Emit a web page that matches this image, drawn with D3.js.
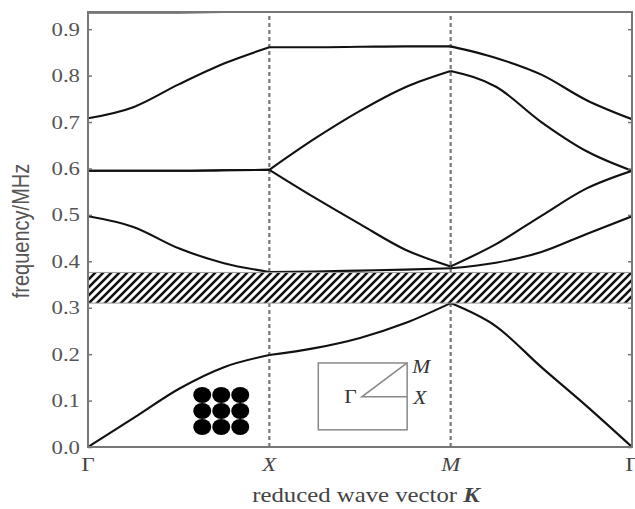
<!DOCTYPE html>
<html>
<head>
<meta charset="utf-8">
<script src="https://cdn.jsdelivr.net/npm/d3@7/dist/d3.min.js"></script>
<style>
  body { margin: 0; background: #fff; }
</style>
</head>
<body>
<div id="chart"></div>
<script>
// path through the zone: Γ(0) - X(1) - M(2) - Γ(3)
var kPoints = [0, 0.25, 0.5, 0.75, 1, 1.25, 1.5, 1.75, 2, 2.25, 2.5, 2.75, 3];

// frequencies (MHz) at kPoints
var band1 = [0, 0.062, 0.125, 0.172, 0.198, 0.213, 0.235, 0.267, 0.310, 0.260, 0.172, 0.088, 0];
var band2 = [0.497, 0.474, 0.428, 0.396, 0.377, 0.378, 0.380, 0.382, 0.385, 0.397, 0.420, 0.459, 0.497];
var band3 = [0.595, 0.595, 0.595, 0.596, 0.597, 0.537, 0.480, 0.425, 0.389, 0.437, 0.498, 0.557, 0.595];
var band4 = [0.595, 0.595, 0.595, 0.596, 0.597, 0.664, 0.724, 0.775, 0.810, 0.776, 0.700, 0.637, 0.595];
var band5 = [0.708, 0.732, 0.781, 0.826, 0.861, 0.861, 0.862, 0.863, 0.863, 0.838, 0.802, 0.747, 0.706];
var band6 = [0.936, 0.936, 0.936, 0.937, 0.950, null, null, null, null, null, null, null, null];

var gapBand = [0.310, 0.376];

var kTicks = [0, 1, 2, 3];
var kLabels = ["Γ", "X", "M", "Γ"];
var freqTicks = [0, 0.1, 0.2, 0.3, 0.4, 0.5, 0.6, 0.7, 0.8, 0.9];

var width = 635, height = 509;
var plotLeft = 88, plotRight = 632, plotTop = 12, plotBottom = 447;
var stretch = "scale(1.2,1)";   // the scan is a bit wider than tall

var svg = d3.select("#chart")
  .append("svg")
    .attr("width", width)
    .attr("height", height);

var x = d3.scaleLinear().domain([0, 3]).range([plotLeft, plotRight]);
var y = d3.scaleLinear().domain([0, 0.937]).range([plotBottom, plotTop]);

var defs = svg.append("defs");

defs.append("clipPath")
    .attr("id", "plot")
  .append("rect")
    .attr("x", plotLeft)
    .attr("y", plotTop)
    .attr("width", plotRight - plotLeft)
    .attr("height", plotBottom - plotTop);

var hatch = defs.append("pattern")
    .attr("id", "hatch")
    .attr("patternUnits", "userSpaceOnUse")
    .attr("width", 8)
    .attr("height", 8);

hatch.append("rect")
    .attr("width", 8)
    .attr("height", 8)
    .attr("fill", "#fff");

hatch.append("path")
    .attr("d", "M-2,2 L2,-2 M0,8 L8,0 M6,10 L10,6")
    .attr("stroke", "#111")
    .attr("stroke-width", 2.6);

// dashed lines at X and M
svg.selectAll(".sym")
    .data([1, 2])
    .enter()
  .append("line")
    .attr("class", "sym")
    .attr("x1", function(d) { return x(d); })
    .attr("x2", function(d) { return x(d); })
    .attr("y1", plotBottom)
    .attr("y2", plotTop)
    .attr("stroke", "#777")
    .attr("stroke-width", 2.2)
    .attr("stroke-dasharray", "4,3");

var line = d3.line()
    .x(function(d) { return x(d[0]); })
    .y(function(d) { return y(d[1]); })
    .curve(d3.curveMonotoneX);

var curves = svg.append("g").attr("clip-path", "url(#plot)");

// each branch (Γ-X, X-M, M-Γ) drawn on its own so the corners stay sharp
[band1, band2, band3, band4, band5, band6].forEach(function(vals) {
  for (var s = 0; s < 3; s++) {
    var pts = [];
    for (var i = s * 4; i <= s * 4 + 4; i++) {
      pts.push([kPoints[i], vals[i]]);
    }
    if (pts.some(function(p) { return p[1] == null; })) continue;
    curves.append("path")
        .attr("d", line(pts))
        .attr("fill", "none")
        .attr("stroke", "#111")
        .attr("stroke-width", 2.1);
  }
});

// band gap
svg.append("rect")
    .attr("x", plotLeft)
    .attr("y", y(gapBand[1]))
    .attr("width", plotRight - plotLeft)
    .attr("height", y(gapBand[0]) - y(gapBand[1]))
    .attr("fill", "url(#hatch)")
    .attr("stroke", "#999")
    .attr("stroke-width", 1);

// axes
var yAxis = d3.axisLeft(y)
    .tickValues(freqTicks)
    .tickSizeInner(-4)
    .tickSizeOuter(0)
    .tickFormat(d3.format(".1f"));

var gy = svg.append("g")
    .attr("transform", "translate(" + plotLeft + ",0)")
    .call(yAxis);
gy.select(".domain").remove();
gy.selectAll("line").attr("stroke", "#777").attr("stroke-width", 1.5);
gy.selectAll("text")
    .attr("x", null)
    .attr("transform", "translate(-8,0) " + stretch)
    .attr("font-family", "Liberation Serif")
    .attr("font-size", 19)
    .attr("fill", "#555");

var gr = svg.append("g")
    .attr("transform", "translate(" + plotRight + ",0)")
    .call(d3.axisRight(y).tickValues(freqTicks).tickSizeInner(-4).tickSizeOuter(0).tickFormat(""));
gr.select(".domain").remove();
gr.selectAll("line").attr("stroke", "#777").attr("stroke-width", 1.5);

svg.append("rect")
    .attr("x", plotLeft)
    .attr("y", plotTop)
    .attr("width", plotRight - plotLeft)
    .attr("height", plotBottom - plotTop)
    .attr("fill", "none")
    .attr("stroke", "#777")
    .attr("stroke-width", 2);

svg.selectAll(".klabel")
    .data(kTicks)
    .enter()
  .append("text")
    .attr("class", "klabel")
    .attr("transform", function(d) { return "translate(" + x(d) + "," + (plotBottom + 24) + ") " + stretch; })
    .attr("text-anchor", "middle")
    .attr("font-family", "Liberation Serif")
    .attr("font-size", 19)
    .attr("font-style", function(d, i) { return kLabels[i] == "Γ" ? "normal" : "italic"; })
    .attr("fill", "#444")
    .text(function(d, i) { return kLabels[i]; });

// axis titles
var xTitle = svg.append("text")
    .attr("transform", "translate(" + ((plotLeft + plotRight) / 2 + 6) + ",502) scale(1.18,1)")
    .attr("text-anchor", "middle")
    .attr("font-family", "Liberation Serif")
    .attr("font-size", 21)
    .attr("fill", "#444");
xTitle.append("tspan").text("reduced wave vector ");
xTitle.append("tspan").attr("font-weight", "bold").attr("font-style", "italic").text("K");

svg.append("text")
    .attr("transform", "translate(29,231) rotate(-90) scale(1,1.2)")
    .attr("text-anchor", "middle")
    .attr("font-family", "Liberation Sans")
    .attr("font-size", 20)
    .attr("fill", "#555")
    .text("frequency/MHz");

// square lattice of cylinders
var lattice = [0, 1, 2];
var dots = svg.append("g");
lattice.forEach(function(r) {
  lattice.forEach(function(c) {
    dots.append("ellipse")
        .attr("cx", x(0.63) + c * 19)
        .attr("cy", y(0.112) + r * 16)
        .attr("rx", 9)
        .attr("ry", 8)
        .attr("fill", "#000");
  });
});

// irreducible Brillouin zone inset
var inset = svg.append("g");
var bx0 = x(1.27), bx1 = x(1.76), by0 = y(0.181), by1 = y(0.037);
var gx = x(1.51), gyy = y(0.108);
inset.append("rect")
    .attr("x", bx0)
    .attr("y", by0)
    .attr("width", bx1 - bx0)
    .attr("height", by1 - by0)
    .attr("fill", "none")
    .attr("stroke", "#888")
    .attr("stroke-width", 1.5);
inset.append("path")
    .attr("d", "M" + bx1 + "," + gyy + "L" + gx + "," + gyy + "L" + bx1 + "," + by0)
    .attr("fill", "none")
    .attr("stroke", "#888")
    .attr("stroke-width", 1.5);
inset.append("text")
    .attr("transform", "translate(" + (gx - 5) + "," + (gyy + 6) + ") " + stretch)
    .attr("text-anchor", "end")
    .attr("font-family", "Liberation Serif")
    .attr("font-size", 18)
    .attr("fill", "#333")
    .text("Γ");
inset.append("text")
    .attr("transform", "translate(" + (bx1 + 5) + "," + (by0 + 10) + ") " + stretch)
    .attr("font-family", "Liberation Serif")
    .attr("font-size", 18)
    .attr("font-style", "italic")
    .attr("fill", "#333")
    .text("M");
inset.append("text")
    .attr("transform", "translate(" + (bx1 + 6) + "," + (gyy + 7) + ") " + stretch)
    .attr("font-family", "Liberation Serif")
    .attr("font-size", 18)
    .attr("font-style", "italic")
    .attr("fill", "#333")
    .text("X");
</script>
</body>
</html>
